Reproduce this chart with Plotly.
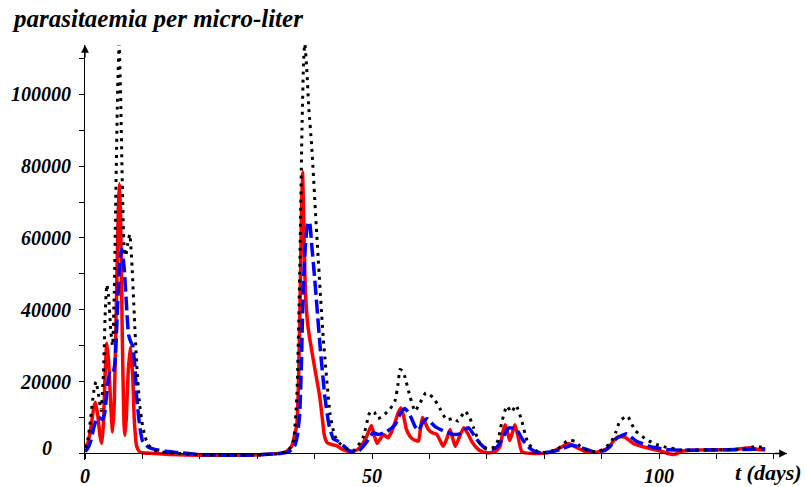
import plotly.graph_objects as go

# ---- data ----
t_red = [0, 0.5, 1.0, 1.5, 1.8, 2.2, 2.6, 2.9, 3.2, 3.5, 3.8, 4.1, 4.5, 4.8, 5.1, 5.5, 5.8, 6.0, 6.2, 6.5, 6.8, 6.95,
         7.2, 7.5, 7.9, 8.3, 8.6, 9.0, 9.5, 10, 12, 15, 20, 25, 30, 33, 35, 36, 36.5, 36.9, 37.2, 37.5, 37.75, 37.9,
         38.1, 38.4, 38.8, 39.2, 40.0, 40.9, 41.4, 41.7, 42.2, 43, 43.8, 45, 46.2, 47, 47.9, 49, 49.9, 50.4, 50.9,
         51.5, 52, 52.8, 53.4, 54, 54.6, 55.05, 55.5, 56, 56.6, 57.2, 58.1, 58.4, 58.8, 59.3, 59.8, 60.5, 61.3, 61.9,
         62.4, 63, 63.6, 64.1, 64.5, 65.2, 66, 66.7, 67.4, 68.1, 68.8, 70, 71.5, 72.3, 72.8, 73.2, 73.6, 74, 74.5,
         74.9, 75.4, 76.1, 77, 79, 81, 82.8, 84.2, 85.7, 87.4, 89.4, 91.2, 92.2, 92.9, 94.1, 95.5, 97.9, 100.2,
         102.5, 104.2, 107, 113, 115.9, 117, 118.5]
v_red = [1500, 3000, 7000, 12500, 14300, 11000, 5000, 2800, 8000, 22000, 30700, 26000, 13000, 6000, 14000, 45000,
         68000, 75200, 66000, 32000, 8000, 5000, 10000, 22000, 29600, 22000, 9000, 2000, 500, 200, 0, -300, -500,
         -500, -400, -100, 500, 2000, 5000, 8000, 20000, 45000, 70000, 78400, 65000, 45000, 36000, 31500, 24000,
         15700, 9000, 5000, 3000, 2500, 2200, 1000, 500, 700, 1700, 4500, 7800, 5000, 2800, 4200, 5300, 4400, 6000,
         8600, 11500, 12700, 10500, 6700, 4800, 3900, 3500, 6500, 10000, 8500, 6700, 5800, 5300, 3500, 2000, 4000,
         6700, 4000, 2000, 4500, 7200, 5500, 3300, 1800, 800, 200, 500, 2000, 6000, 8000, 6000, 3600, 6000, 8000,
         5000, 500, 100, 0, 300, 1600, 2800, 1600, 400, 400, 1600, 3800, 4700, 4500, 2800, 1600, 700, -300, 700,
         1000, 1100, 1600, 1200, 1000]

t_blue = [0, 0.5, 1.0, 1.5, 2.0, 2.4, 3.0, 3.4, 3.8, 4.3, 4.8, 5.2, 5.6, 6.0, 6.4, 6.8, 7.2, 7.6, 8.0, 8.3, 8.7,
          9.0, 9.5, 10, 10.5, 11, 12, 14, 16, 20, 25, 30, 34, 35.5, 36.5, 37.0, 37.4, 37.7, 38.0, 38.4, 38.8, 39.1,
          39.5, 40.0, 40.4, 41.0, 41.8, 42.5, 43.3, 44.0, 44.8, 46, 47.5, 48.2, 49.1, 50.2, 51.1, 52.6, 54, 54.9,
          55.7, 56.3, 56.9, 57.5, 58.1, 58.8, 59.6, 60.3, 61, 62.7, 64.2, 65.3, 66.1, 66.8, 67.5, 68.2, 69, 70, 71,
          71.7, 72.3, 72.9, 73.5, 74, 74.6, 75.2, 76, 76.7, 77.5, 78.1, 79.5, 81, 82.8, 84.8, 86.5, 88.6, 90.6,
          91.5, 92.3, 93.5, 94.4, 95.2, 96.1, 98.4, 101.3, 104, 110, 115, 118.5]
v_blue = [500, 1500, 3500, 7000, 9500, 10100, 9500, 11000, 17000, 22300, 22000, 25000, 38000, 52000, 57000, 52000,
          42000, 33000, 31000, 30000, 24000, 15700, 8000, 3600, 2500, 1800, 1200, 600, 300, -300, -500, -400, 0,
          500, 2000, 5000, 11000, 25000, 45000, 58000, 64000, 64500, 58000, 49000, 41000, 29000, 15700, 8000, 4000,
          3500, 2500, 800, 500, 1500, 3300, 5800, 5300, 6100, 8000, 11000, 12500, 11500, 9700, 7500, 6400, 8500,
          9700, 8600, 7500, 6100, 5300, 5500, 6600, 7200, 5800, 4100, 2500, 1200, 1200, 1700, 3000, 4700, 6500,
          7200, 7000, 6700, 4500, 2800, 1500, 800, 200, 400, 1100, 2300, 1600, 500, 900, 2000, 3800, 5000, 5500,
          4500, 3400, 2000, 1100, 900, 1000, 1100, 1300]

t_black = [0, 0.5, 1.0, 1.5, 1.9, 2.3, 2.8, 3.2, 3.5, 3.8, 4.1, 4.5, 4.8, 5.1, 5.4, 5.7, 5.95, 6.2, 6.5, 6.8, 7.1,
           7.4, 7.8, 8.2, 8.6, 9.0, 9.5, 10, 10.5, 11, 12, 14, 20, 25, 30, 34, 35.5, 36.3, 36.9, 37.4, 37.8, 38.1,
           38.3, 38.6, 39.0, 39.5, 40.4, 41.5, 42.7, 43.5, 44.4, 46, 47, 48.5, 49.5, 49.9, 50.4, 51.0, 52, 53.1,
           54, 54.5, 54.9, 55.3, 55.7, 56.6, 57.5, 58.4, 59.4, 60.7, 61.8, 63, 64.2, 65, 66.2, 67.0, 67.7, 68.8,
           70, 71.4, 72.0, 72.6, 73.5, 74.3, 75.1, 76.1, 77.2, 78.7, 80, 82.2, 83.9, 84.6, 85.4, 86.5, 88, 89.4,
           91.5, 92.5, 93.2, 94.5, 95.8, 97.9, 99.6, 101.3, 104, 110, 115, 117, 118.2]
v_black = [1500, 4000, 10000, 17000, 20000, 17000, 12000, 22000, 38000, 47000, 44000, 34000, 30000, 45000, 75000,
           102000, 114000, 100000, 75000, 58000, 55000, 58000, 61000, 52000, 38000, 25000, 14000, 8000, 4500, 2500,
           1000, 300, -300, -500, -400, 0, 1000, 3500, 15700, 50000, 90000, 110000, 114000, 108000, 96000, 85400,
           60300, 32400, 11000, 5000, 2800, 1000, 1000, 4700, 11000, 11800, 11500, 9700, 10600, 12300, 14600,
           19000, 23400, 23000, 21500, 16000, 11800, 14200, 16900, 15500, 12600, 9400, 9800, 9000, 11800, 10000,
           7200, 2800, 1400, 1800, 4000, 8600, 13200, 11500, 13400, 9000, 2800, 700, 300, 1100, 3400, 3600, 3400,
           1600, 600, 500, 2800, 6000, 9100, 10400, 6500, 3800, 2500, 1700, 1000, 1000, 1300, 2000, 1600]

x_tick_vals = [0, 50, 100]
x_tick_text = ["0", "50", "100"]
y_tick_vals = [20000, 40000, 60000, 80000, 100000]
y_tick_text = ["20000", "40000", "60000", "80000", "100000"]

# ---- figure ----
FONT = "Liberation Serif"
XMAX = 122.3
YMAX = 113724
YMIN = -1810
xpos = (0 - YMIN) / (YMAX - YMIN)

fig = go.Figure()
fig.add_trace(go.Scatter(x=t_red, y=v_red, mode="lines",
                         line=dict(color="#ff0000", width=3.5, shape="spline", smoothing=0.5)))
fig.add_trace(go.Scatter(x=t_blue, y=v_blue, mode="lines",
                         line=dict(color="#0000ff", width=3.5, dash="14px,5px", shape="spline", smoothing=0.5)))
fig.add_trace(go.Scatter(x=t_black, y=v_black, mode="lines",
                         line=dict(color="#000000", width=3, dash="3px,5px", shape="spline", smoothing=0.5)))

tickfont = dict(family=FONT, size=20, color="black", weight="bold", style="italic")

fig.update_layout(
    template="none",
    width=806, height=487,
    margin=dict(l=85, r=19, t=45, b=27, pad=0),
    paper_bgcolor="white", plot_bgcolor="white",
    showlegend=False,
    xaxis=dict(range=[0, XMAX], showgrid=False, zeroline=False, showline=True, linecolor="black", linewidth=1,
               anchor="free", position=xpos, automargin=False,
               tickvals=x_tick_vals, ticktext=x_tick_text, ticks="outside", ticklen=5, tickcolor="black",
               minor=dict(dtick=10, tick0=0, ticks="outside", ticklen=5, tickcolor="black", showgrid=False),
               tickfont=tickfont),
    yaxis=dict(range=[YMIN, YMAX], showgrid=False, zeroline=False, showline=True, linecolor="black", linewidth=1,
               automargin=False,
               tickvals=y_tick_vals, ticktext=y_tick_text, ticks="outside", ticklen=5, tickcolor="black",
               minor=dict(dtick=10000, tick0=0, ticks="outside", ticklen=5, tickcolor="black", showgrid=False),
               tickfont=tickfont, ticklabelstandoff=4),
)

annots = [
    dict(x=XMAX, y=0, xref="x", yref="y", ax=-14, ay=0, text="", showarrow=True,
         arrowhead=2, arrowsize=1.2, arrowwidth=1.3, arrowcolor="black"),
    dict(x=0, y=YMAX, xref="x", yref="y", ax=0, ay=14, text="", showarrow=True,
         arrowhead=2, arrowsize=1.2, arrowwidth=1.3, arrowcolor="black"),
    dict(x=0, y=0, xref="x", yref="y", text="0", showarrow=False, xanchor="right", yanchor="middle",
         xshift=-31, yshift=6, font=tickfont),
    dict(x=1, y=0, xref="paper", yref="paper", text="t (days)", showarrow=False, xanchor="right", yanchor="top",
         xshift=17, yshift=2, font=dict(family=FONT, size=22, color="black", weight="bold", style="italic")),
    dict(x=0, y=1, xref="paper", yref="paper", text="parasitaemia per micro-liter", showarrow=False,
         xanchor="left", yanchor="middle", xshift=-75, yshift=27,
         font=dict(family=FONT, size=25, color="black", weight="bold", style="italic")),
]
fig.update_layout(annotations=annots)

fig.write_html("out.html", config={"displayModeBar": False},
               post_script="document.body.style.margin='0';document.body.style.overflow='hidden';")
